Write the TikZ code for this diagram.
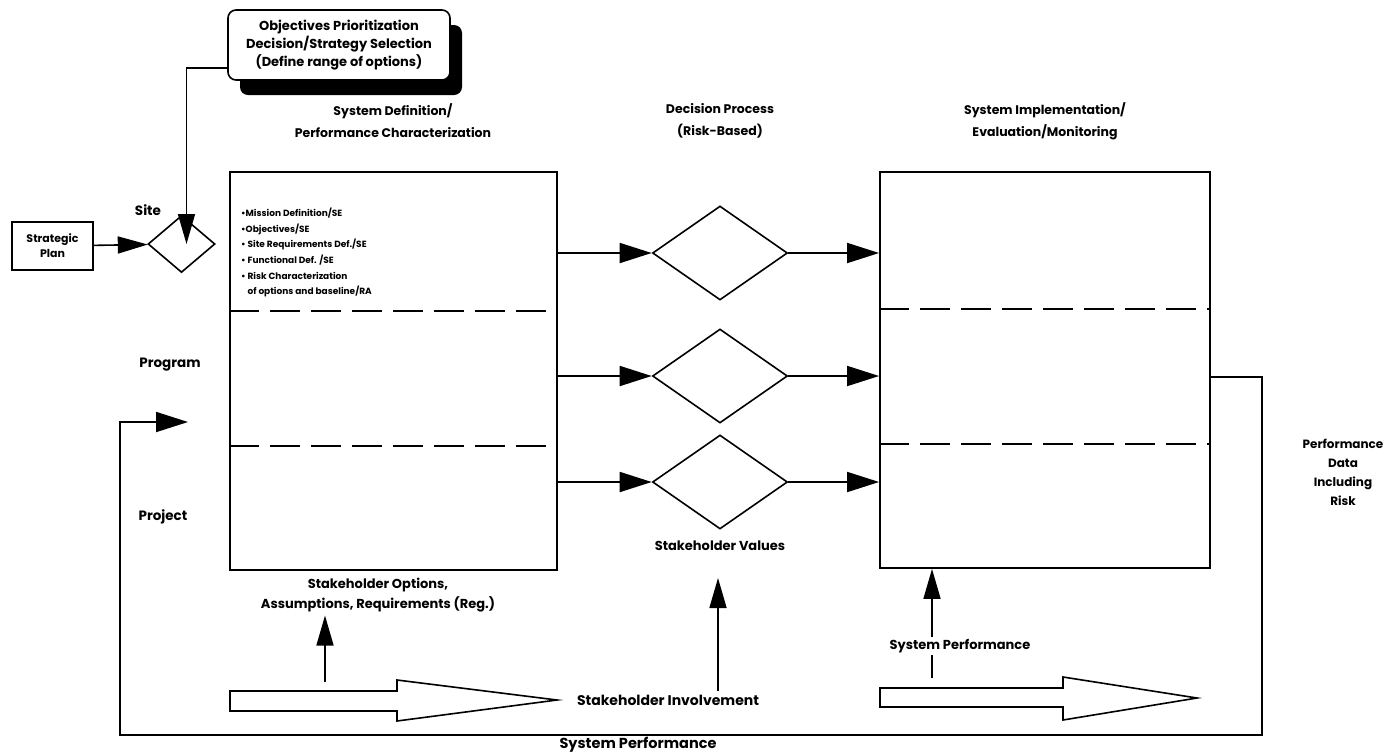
\documentclass[tikz,border=0pt]{standalone}
\usepackage{fontspec}
\setmainfont{Poppins}
\usetikzlibrary{arrows.meta,shapes.geometric,shadows,calc}
\begin{document}
\begin{tikzpicture}[x=1pt,y=-1pt,
  bigbox/.style={draw, line width=1.8pt, inner sep=0pt},
  dec/.style={draw, diamond, line width=1.6pt, inner sep=0pt, minimum width=135pt, minimum height=94pt},
  arr/.style={-{Triangle[length=32pt,width=20pt]}, line width=1.8pt},
  sarr/.style={-{Triangle[length=30pt,width=17pt]}, line width=1.6pt},
  sep/.style={dash pattern=on 30pt off 11pt, line width=1.8pt},
  hollow/.style={draw, line width=1.6pt, fill=white},
  head/.style={align=center, font=\bfseries\fontsize{12.5}{22}\selectfont},
  lab/.style={align=center, font=\bfseries\fontsize{13}{20}\selectfont},
  rowlab/.style={font=\bfseries\fontsize{13.5}{16}\selectfont},
  small/.style={align=center, font=\bfseries\fontsize{12}{19}\selectfont}
]
\useasboundingbox (0,0) rectangle (1395,753);

% main boxes
\node[bigbox, minimum width=327pt, minimum height=398pt] (L) at (393.5,371) {};
\node[bigbox, minimum width=330pt, minimum height=396pt] (R) at (1045,370) {};
\draw[sep] (L.west |- 0,311) -- (L.east |- 0,311);
\draw[sep] (L.west |- 0,446) -- (L.east |- 0,446);
\draw[sep] (R.west |- 0,309) -- (R.east |- 0,309);
\draw[sep] (R.west |- 0,444) -- (R.east |- 0,444);

% diamonds
\node[dec] (d1) at (720,253) {};
\node[dec] (d2) at (720,376) {};
\node[dec] (d3) at (720,482) {};
\foreach \d in {d1,d2,d3}{
  \draw[arr] (L.east |- \d) -- (\d);
  \draw[arr] (\d) -- (\d -| R.west);
}

% headings
\node[head] (h1) at (393,121) {System Definition/\\Performance Characterization};
\node[head] (h2) at (720,121) {Decision Process\\(Risk-Based)};
\node[head] (h3) at (1045,121) {System Implementation/\\Evaluation/Monitoring};

% bullets
\node[anchor=north west, align=left, inner sep=0pt, font=\bfseries\fontsize{9}{15.6}\selectfont] (bul) at (241,208)
{\textbullet Mission Definition/SE\\
\textbullet Objectives/SE\\
\textbullet\ Site Requirements Def./SE\\
\textbullet\ Functional Def. /SE\\
\textbullet\ Risk Characterization\\
\hphantom{\textbullet\ }of options and baseline/RA};

% top box
\node[draw, line width=1.6pt, rounded corners=8pt, fill=white,
  general shadow={fill=black, shadow xshift=12pt, shadow yshift=-15pt, rounded corners=8pt},
  minimum width=222pt, minimum height=70pt, align=center, inner sep=2pt,
  font=\bfseries\fontsize{13}{18}\selectfont] (top) at (339,45)
  {Objectives Prioritization\\Decision/Strategy Selection\\(Define range of options)};

% site diamond and strategic plan
\node[dec, minimum width=67pt, minimum height=57pt] (site) at (181.5,244) {};
\node[draw, line width=1.6pt, minimum width=81pt, minimum height=48pt, align=center,
  font=\bfseries\fontsize{11}{15}\selectfont] (sp) at (52.5,246) {Strategic\\Plan};
\draw[sarr] (sp) -- (site);
\draw[sarr] ([yshift=-23pt]top.west) -| ([xshift=5pt]site.center);

% row labels
\node[rowlab] (site-l) at (148,210) {Site};
\node[rowlab] (prog) at (170,365) {Program};
\node[rowlab] (proj) at (163,517) {Project};

% bottom labels
\node[lab] (opt) at (378,595) {Stakeholder Options,\\Assumptions, Requirements (Reg.)};
\node[lab] (sv) at (720,546) {Stakeholder Values};
\node[lab, font=\bfseries\fontsize{14}{20}\selectfont] (si) at (668,700) {Stakeholder Involvement};
\node[lab, font=\bfseries\fontsize{14.5}{20}\selectfont] (bsp) at (638,745) {System Performance};
\node[small] (pd) at (1343,472) {Performance\\Data\\Including\\Risk};

% hollow arrows
\draw[hollow] (230,691) -- (397,691) -- (397,680) -- (557,700) -- (397,721) -- (397,711) -- (230,711) -- cycle;
\draw[hollow] (880,688) -- (1063,688) -- (1063,677) -- (1197,698) -- (1063,720) -- (1063,707) -- (880,707) -- cycle;

% up arrows
\coordinate (ua) at (325,682);
\draw[sarr] (ua) -- (ua |- opt.south);
\coordinate (sva) at (718,578);
\draw[sarr] (si.north -| sva) -- (sva);
\coordinate (spb) at (932,678);
\draw[sarr] (spb) -- (spb |- R.south);
\node[lab, fill=white, inner sep=2pt] (sp2) at (960,646) {System Performance};

% feedback loop
\coordinate (c1) at (1262,735);
\coordinate (c2) at (120,422);
\coordinate (fbin) at (188,422);
\draw[arr] ([yshift=-7pt]R.east) -| (c1) -| (c2) -- (fbin);
\end{tikzpicture}
\end{document}
